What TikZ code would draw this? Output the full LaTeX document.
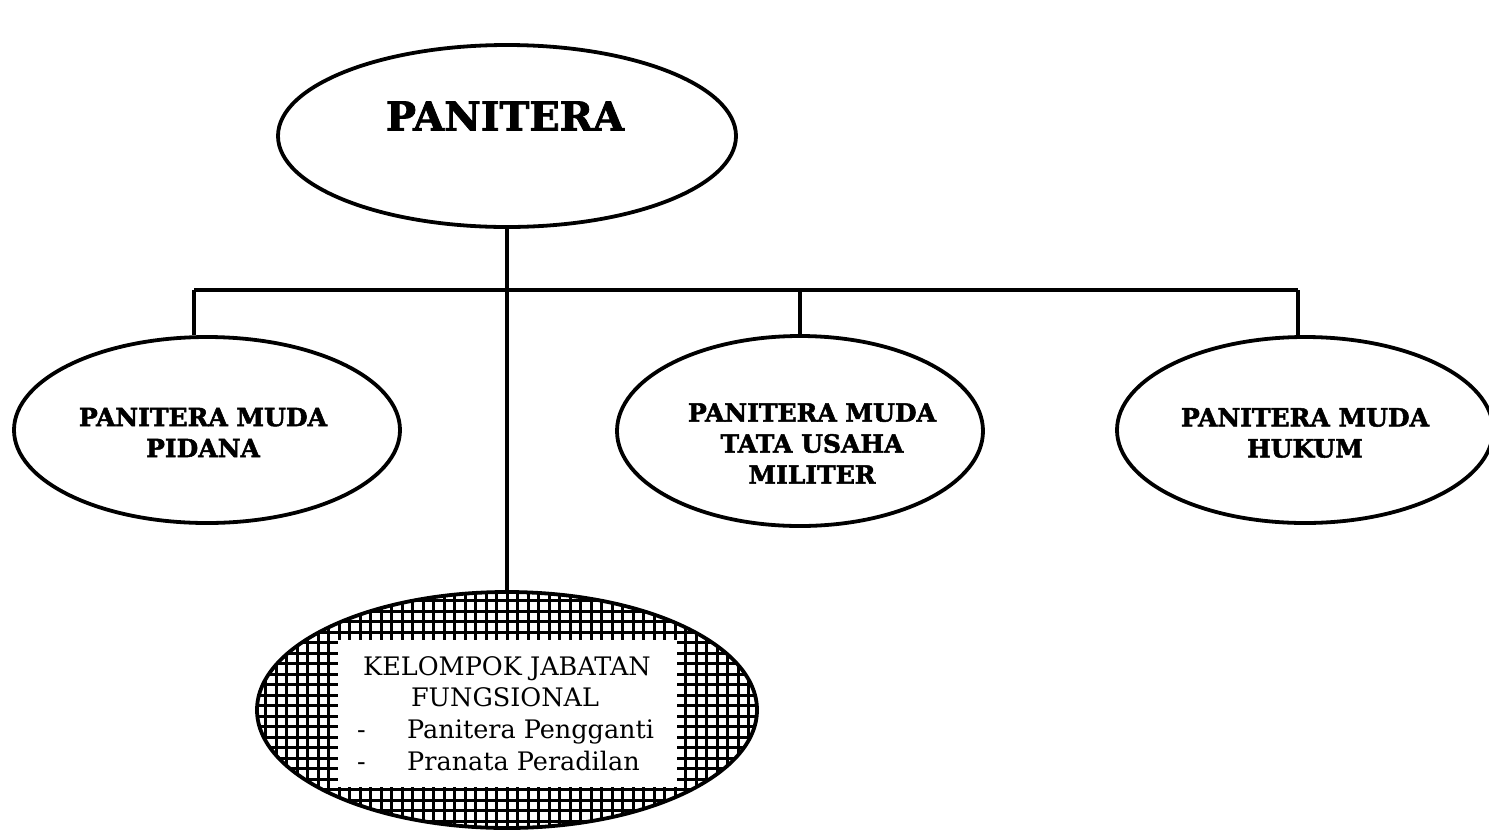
\documentclass[tikz,border=0pt]{standalone}
\usepackage{fontspec}
\setmainfont{DejaVu Serif}
\newfontfamily\heavyserif[FakeBold=2]{DejaVu Serif Bold}
\usetikzlibrary{shapes.geometric}

\tikzset{
  unit/.style={draw=black, line width=3.8pt, ellipse, fill=white, inner sep=0pt},
  link/.style={draw=black, line width=3.8pt},
  hatch/.style={draw=black, line width=3pt},
  boldlabel/.style={inner sep=0pt, align=center, font=\heavyserif\fontsize{25}{31}\selectfont},
  toplabel/.style={inner sep=0pt, font=\heavyserif\fontsize{40}{48}\selectfont},
  plainline/.style={inner sep=0pt, anchor=base, font=\fontsize{25.5}{31}\selectfont},
  plainleft/.style={inner sep=0pt, anchor=base west, font=\fontsize{25.5}{31}\selectfont},
}

\begin{document}
\begin{tikzpicture}[x=1pt, y=-1pt]
  \fill[white] (0,0) rectangle (1489,831);
  \useasboundingbox (0,0) rectangle (1489,831);

  % organisational units
  \node[unit, minimum width=458pt, minimum height=182pt] (top) at (507,136) {};
  \node[unit, minimum width=386pt, minimum height=186pt] (lft) at (207,430) {};
  \node[unit, minimum width=366pt, minimum height=190pt] (mid) at (800,431) {};
  \node[unit, minimum width=376pt, minimum height=186pt] (rgt) at (1305,430) {};

  % functional group: cross-hatched ellipse
  \begin{scope}
    \clip (507,710) ellipse [x radius=250, y radius=118];
    \foreach \gx in {0,...,48} {
      \draw[hatch] (255+10.5*\gx,585) -- (255+10.5*\gx,835);
    }
    \foreach \gy in {0,...,24} {
      \draw[hatch] (250,590+10.5*\gy) -- (765,590+10.5*\gy);
    }
  \end{scope}
  \node[draw=black, line width=3.8pt, ellipse, inner sep=0pt,
        minimum width=500pt, minimum height=236pt] (bot) at (507,710) {};
  \node[fill=white, inner sep=0pt, minimum width=339pt, minimum height=147pt] (panel) at (507.5,713.5) {};

  % connectors
  \coordinate (busL) at (194,290);
  \coordinate (busR) at (1298,290);
  \draw[link] (top.south) -- (bot.north);
  \draw[link] (busL) -- (busR);
  \draw[link] (busL) -- (lft.north -| busL);
  \draw[link] (mid.north |- busL) -- (mid.north);
  \draw[link] (busR) -- (rgt.north -| busR);

  % labels
  \node[toplabel] (ttop) at (505,116) {PANITERA};
  \node[boldlabel] (tlft) at (203,432.5) {PANITERA MUDA\\PIDANA};
  \node[boldlabel] (tmid) at (812,443.5) {PANITERA MUDA\\TATA USAHA\\MILITER};
  \node[boldlabel] (trgt) at (1305,433) {PANITERA MUDA\\HUKUM};

  \node[plainline] (k1) at (507,675) {KELOMPOK JABATAN};
  \node[plainline] (k2) at (505,706.5) {FUNGSIONAL};
  \node[plainleft] (d1) at (357,738) {-};
  \node[plainleft] (k3) at (407,738) {Panitera Pengganti};
  \node[plainleft] (d2) at (357,770) {-};
  \node[plainleft] (k4) at (407,770) {Pranata Peradilan};
\end{tikzpicture}
\end{document}
